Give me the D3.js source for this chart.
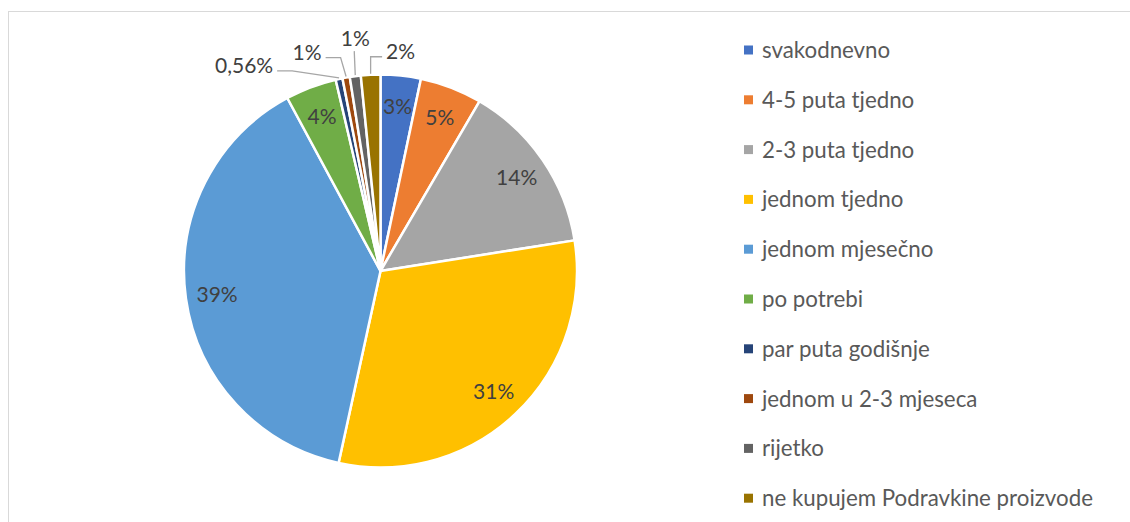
<!DOCTYPE html>
<html>
<head>
<meta charset="utf-8">
<script src="https://cdn.jsdelivr.net/npm/d3@7"></script>
<style>
  html, body { margin: 0; padding: 0; background: #fff; }
  svg { display: block; }
  text { font-family: Lato, "Noto Sans", sans-serif; }
</style>
</head>
<body>
<svg id="chart" width="1130" height="522"></svg>
<script>
// ---- data ----
const categories = [
  "svakodnevno",
  "4-5 puta tjedno",
  "2-3 puta tjedno",
  "jednom tjedno",
  "jednom mjesečno",
  "po potrebi",
  "par puta godišnje",
  "jednom u 2-3 mjeseca",
  "rijetko",
  "ne kupujem Podravkine proizvode"
];
const values = [3.3, 5.1, 14.1, 30.9, 38.7, 4.2, 0.56, 0.6, 0.9, 1.6];
const valueLabels = ["3%", "5%", "14%", "31%", "39%", "4%", "0,56%", "1%", "1%", "2%"];
const colors = ["#4472C4", "#ED7D31", "#A5A5A5", "#FFC000", "#5B9BD5",
                "#70AD47", "#264478", "#9E480E", "#636363", "#997300"];

// ---- layout ----
const W = 1130, H = 522;
const cx = 380.5, cy = 271, R = 196.5;
const labelR = 165;
const labelFont = 21;
const legendFont = 22.3;
// manual nudges for outside labels (offset of label centre from slice's outer point)
const outsideNudge = {6: [-95, -13], 7: [-39, -25], 8: [0, -38], 9: [30, -23]};

const svg = d3.select("#chart");

// chart frame (only top and left edges visible in the crop)
svg.append("rect")
  .attr("x", 8.5).attr("y", 11.5)
  .attr("width", W + 20).attr("height", H + 20)
  .attr("fill", "none").attr("stroke", "#D9D9D9").attr("stroke-width", 1);

const data = categories.map((c, i) => ({cat: c, value: values[i], label: valueLabels[i], color: colors[i], i}));

const pie = d3.pie().sort(null).value(d => d.value);
const arcs = pie(data);
const arc = d3.arc().innerRadius(0).outerRadius(R);
const labelArc = d3.arc().innerRadius(labelR).outerRadius(labelR);

const g = svg.append("g").attr("transform", `translate(${cx},${cy})`);

g.selectAll("path.slice")
  .data(arcs)
  .join("path")
  .attr("class", "slice")
  .attr("d", arc)
  .attr("fill", d => d.data.color)
  .attr("stroke", "#fff")
  .attr("stroke-width", 2.5)
  .attr("stroke-linejoin", "round");

// inside labels
g.selectAll("text.inlabel")
  .data(arcs.filter(d => !(d.data.i in outsideNudge)))
  .join("text")
  .attr("class", "inlabel")
  .attr("transform", d => `translate(${labelArc.centroid(d)})`)
  .attr("text-anchor", "middle")
  .attr("dy", "0.36em")
  .attr("font-size", labelFont)
  .attr("fill", "#404040")
  .text(d => d.data.label);

// outside labels with leader lines
arcs.filter(d => d.data.i in outsideNudge).forEach(d => {
  const mid = (d.startAngle + d.endAngle) / 2;
  const px = R * Math.sin(mid), py = -R * Math.cos(mid);
  const [nx, ny] = outsideNudge[d.data.i];
  const lx = px + nx, ly = py + ny;
  const t = g.append("text")
    .attr("x", lx).attr("y", ly)
    .attr("text-anchor", "middle")
    .attr("dy", "0.36em")
    .attr("font-size", labelFont)
    .attr("fill", "#404040")
    .text(d.data.label);
  const tw = t.node().getComputedTextLength();
  let pts;
  if (Math.abs(px - lx) < 10) {
    pts = [[lx - 1, ly + 13], [px, py - 1]];
  } else {
    const side = px > lx ? 1 : -1;
    const ex = lx + side * (tw / 2 + 4);
    const ey = ly + 5;
    const elx = ex + side * Math.min(15, Math.abs(px - ex));
    pts = [[ex, ey], [elx, ey], [px, py - 1]];
  }
  g.insert("polyline", "text")
    .attr("points", pts.map(p => p.join(",")).join(" "))
    .attr("fill", "none")
    .attr("stroke", "#A6A6A6")
    .attr("stroke-width", 1.3);
});

// legend
const legendX = 744, legendY0 = 50, legendStep = 49.8;
const lg = svg.append("g");
const items = lg.selectAll("g.item")
  .data(data)
  .join("g")
  .attr("class", "item")
  .attr("transform", (d, i) => `translate(${legendX},${legendY0 + i * legendStep})`);
items.append("rect")
  .attr("x", 0).attr("y", -4.5)
  .attr("width", 9).attr("height", 9)
  .attr("fill", d => d.color);
items.append("text")
  .attr("x", 18).attr("y", 0)
  .attr("dy", "0.36em")
  .attr("font-size", legendFont)
  .attr("fill", "#595959")
  .text(d => d.cat);
</script>
</body>
</html>
